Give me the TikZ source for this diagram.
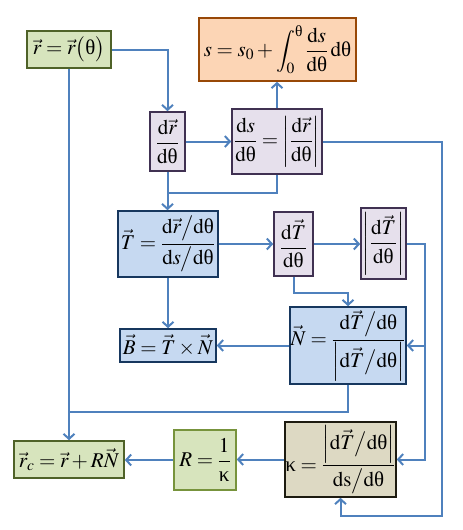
\documentclass[tikz,border=0pt]{standalone}
\usepackage{amsmath}
\usepackage{mathptmx}
\usepackage{fontspec}
\setmainfont{Liberation Serif}
\usetikzlibrary{arrows.meta}
\newcommand{\uth}{\text{θ}}
\newcommand{\ukap}{\text{κ}}
\definecolor{gfill}{HTML}{D7E4BD}
\definecolor{gdraw}{HTML}{4F6228}
\definecolor{gdrawl}{HTML}{77933C}
\definecolor{ofill}{HTML}{FCD5B5}
\definecolor{odraw}{HTML}{984807}
\definecolor{lfill}{HTML}{E6E0EC}
\definecolor{ldraw}{HTML}{403152}
\definecolor{bfill}{HTML}{C6D9F1}
\definecolor{bdraw}{HTML}{17375E}
\definecolor{tfill}{HTML}{DDD9C3}
\definecolor{tdraw}{HTML}{1D1B10}
\definecolor{lnc}{HTML}{4F81BD}
\tikzset{
  box/.style={draw, line width=1.6pt, inner sep=0pt, align=center,
    font=\fontsize{21}{25}\selectfont},
  grn/.style={box, fill=gfill, draw=gdraw},
  grnl/.style={box, fill=gfill, draw=gdrawl},
  org/.style={box, fill=ofill, draw=odraw},
  lav/.style={box, fill=lfill, draw=ldraw},
  blu/.style={box, fill=bfill, draw=bdraw},
  tan/.style={box, fill=tfill, draw=tdraw},
  wire/.style={draw=lnc, line width=2pt},
  conn/.style={wire, -{Straight Barb[length=5pt,width=11pt,line width=2pt]}}
}
\begin{document}
\begin{tikzpicture}[x=1pt,y=-1pt]
\useasboundingbox (0,0) rectangle (463,530);
\node[grn, minimum width=84pt, minimum height=37pt] (r) at (69,49.5) {$\vec r=\vec r\big(\uth\big)$};
\node[org, minimum width=157pt, minimum height=63pt] (s) at (277.5,49.5) {$s=s_0+\displaystyle\int_0^{\uth}\frac{\mathrm{d}s}{\mathrm{d}\uth}\,\mathrm{d}\uth$};
\node[lav, minimum width=35pt, minimum height=59pt] (dr) at (167.5,141.5) {$\dfrac{\mathrm d\vec r}{\mathrm d\uth}$};
\node[lav, minimum width=90pt, minimum height=65pt] (ds) at (277,141.5) {$\dfrac{\mathrm ds}{\mathrm d\uth}=\left|\dfrac{\mathrm d\vec r}{\mathrm d\uth}\right|$};
\node[blu, minimum width=100pt, minimum height=66pt] (T) at (168,244) {$\vec T=\dfrac{\mathrm d\vec r\big/\mathrm d\uth}{\mathrm ds\big/\mathrm d\uth}$};
\node[lav, minimum width=39pt, minimum height=64pt] (dT) at (293.5,244) {$\dfrac{\mathrm d\vec T}{\mathrm d\uth}$};
\node[lav, minimum width=45pt, minimum height=71pt] (dTa) at (383.5,243.5) {$\left|\dfrac{\mathrm d\vec T}{\mathrm d\uth}\right|$};
\node[blu, minimum width=96pt, minimum height=33pt] (B) at (168,345.5) {$\vec B=\vec T\times\vec N$};
\node[blu, minimum width=116pt, minimum height=77pt] (N) at (348,345.5) {$\vec N=\dfrac{\mathrm d\vec T\big/\mathrm d\uth}{\left|\mathrm d\vec T\big/\mathrm d\uth\right|}$};
\node[grn, minimum width=110pt, minimum height=37pt] (rc) at (69,459.5) {$\vec r_c=\vec r+R\vec N$};
\node[grnl, minimum width=62pt, minimum height=60pt] (R) at (205,460) {$R=\dfrac{1}{\ukap}$};
\node[tan, minimum width=111pt, minimum height=75pt] (k) at (340.5,459.5) {$\ukap=\dfrac{\left|\mathrm d\vec T\big/\mathrm d\uth\right|}{\mathrm{ds}\big/\mathrm d\uth}$};
\coordinate (j1) at (69,412);
\coordinate (j2) at (167.5,193);
\coordinate (c1) at (442,516);
% connectors
\draw[conn] (r.east) -| (dr.north);
\draw[conn] (r.south) -- (rc.north);
\draw[wire] (N.south) |- (j1);
\draw[conn] (dr.east) -- (dr.east -| ds.west);
\draw[conn] (ds.north) -- (ds.north |- s.south);
\draw[conn] (dr.south) -- (dr.south |- T.north);
\draw[wire] (ds.south) |- (j2);
\draw[conn] (ds.east) -| (c1) -| (k.south);
\draw[conn] (T.east) -- (T.east -| dT.west);
\draw[conn] (T.south) -- (T.south |- B.north);
\draw[conn] (dT.east) -- (dT.east -| dTa.west);
\draw[conn] (dT.south) -- ++(0,16) -| (N.north);
\draw[conn] (dTa.east) -- ++(18,0) coordinate (c3) |- (N.east);
\draw[conn] (c3) |- (k.east);
\draw[conn] (N.west) -- (N.west -| B.east);
\draw[conn] (k.west) -- (k.west -| R.east);
\draw[conn] (R.west) -- (R.west -| rc.east);
\end{tikzpicture}
\end{document}
